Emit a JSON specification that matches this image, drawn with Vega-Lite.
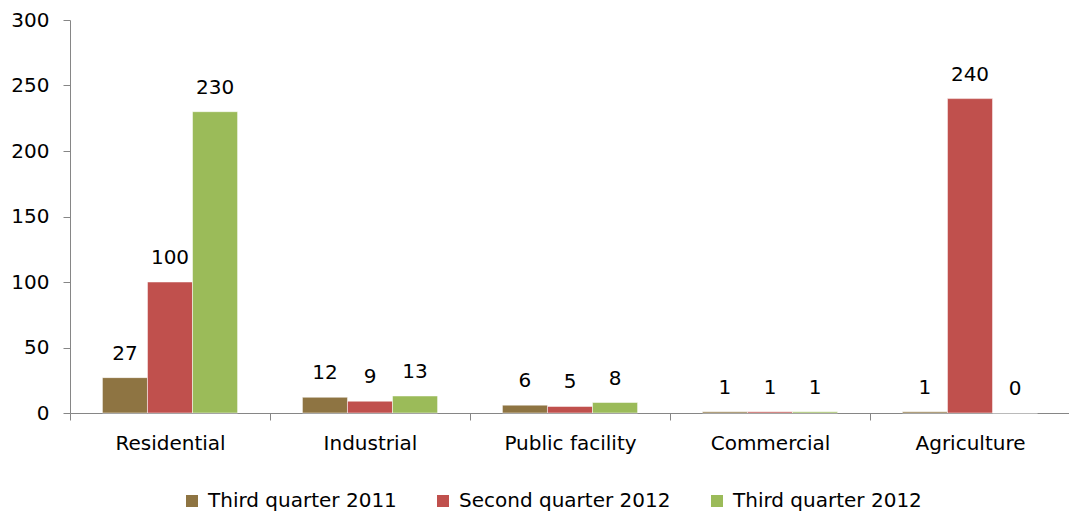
{
  "$schema": "https://vega.github.io/schema/vega-lite/v6.json",
  "width": 1000,
  "height": 393,
  "autosize": {"type": "none"},
  "padding": {"left": 70, "top": 20, "right": 0, "bottom": 101},
  "background": "white",
  "config": {
    "view": {"stroke": null},
    "font": "DejaVu Sans",
    "axis": {"labelFont": "DejaVu Sans", "labelColor": "black", "grid": false, "domainColor": "#868686", "tickColor": "#868686", "title": null}
  },
  "data": {
    "values": [
      {"category": "Residential", "series": "Third quarter 2011", "value": 27},
      {"category": "Residential", "series": "Second quarter 2012", "value": 100},
      {"category": "Residential", "series": "Third quarter 2012", "value": 230},
      {"category": "Industrial", "series": "Third quarter 2011", "value": 12},
      {"category": "Industrial", "series": "Second quarter 2012", "value": 9},
      {"category": "Industrial", "series": "Third quarter 2012", "value": 13},
      {"category": "Public facility", "series": "Third quarter 2011", "value": 6},
      {"category": "Public facility", "series": "Second quarter 2012", "value": 5},
      {"category": "Public facility", "series": "Third quarter 2012", "value": 8},
      {"category": "Commercial", "series": "Third quarter 2011", "value": 1},
      {"category": "Commercial", "series": "Second quarter 2012", "value": 1},
      {"category": "Commercial", "series": "Third quarter 2012", "value": 1},
      {"category": "Agriculture", "series": "Third quarter 2011", "value": 1},
      {"category": "Agriculture", "series": "Second quarter 2012", "value": 240},
      {"category": "Agriculture", "series": "Third quarter 2012", "value": 0}
    ]
  },
  "encoding": {
    "x": {
      "field": "category", "type": "nominal",
      "sort": ["Residential", "Industrial", "Public facility", "Commercial", "Agriculture"],
      "scale": {"paddingInner": 0, "paddingOuter": 0},
      "axis": {"labelAngle": 0, "labelFontSize": 20, "tickBand": "extent", "tickSize": 7, "labelPadding": 13}
    },
    "xOffset": {
      "field": "series", "type": "nominal",
      "sort": ["Third quarter 2011", "Second quarter 2012", "Third quarter 2012"],
      "scale": {"paddingInner": 0, "paddingOuter": 0.72}
    },
    "y": {
      "field": "value", "type": "quantitative",
      "scale": {"domain": [0, 300], "nice": false},
      "axis": {"values": [0, 50, 100, 150, 200, 250, 300], "labelFontSize": 20, "tickSize": 7, "labelPadding": 14}
    }
  },
  "layer": [
    {
      "mark": {"type": "bar", "stroke": "white", "strokeWidth": 0.5},
      "encoding": {
        "color": {
          "field": "series", "type": "nominal",
          "sort": ["Third quarter 2011", "Second quarter 2012", "Third quarter 2012"],
          "scale": {"domain": ["Third quarter 2011", "Second quarter 2012", "Third quarter 2012"], "range": ["#8E7442", "#C0504D", "#9BBB59"]},
          "legend": {
            "title": null, "orient": "none", "direction": "horizontal",
            "legendX": 112, "legendY": 471,
            "symbolType": "square", "symbolSize": 144, "symbolStrokeWidth": 0,
            "labelFontSize": 20, "labelFont": "DejaVu Sans", "labelColor": "black",
            "columnPadding": 36, "labelOffset": 6, "labelLimit": 400
          }
        }
      }
    },
    {
      "mark": {"type": "text", "baseline": "bottom", "dy": -14, "fontSize": 20, "color": "black"},
      "encoding": {"text": {"field": "value", "type": "quantitative"}}
    }
  ]
}
